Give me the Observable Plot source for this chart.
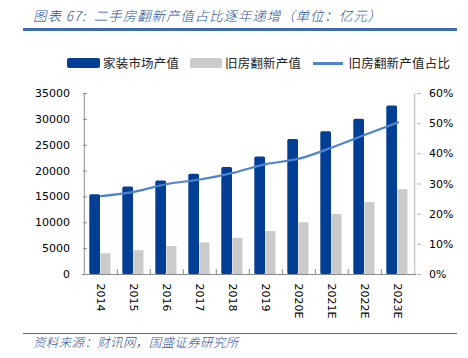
<!DOCTYPE html>
<html>
<head>
<meta charset="utf-8">
<script src="https://cdn.jsdelivr.net/npm/d3@7"></script>
<script src="https://cdn.jsdelivr.net/npm/@observablehq/plot@0.6"></script>
<style>
  html, body { margin: 0; padding: 0; background: #fff; }
  #wrap { position: relative; width: 468px; height: 358px; overflow: hidden; font-family: "Noto Sans CJK SC", sans-serif; }
  .abs { position: absolute; white-space: nowrap; }
  #title { left: 33px; top: 5px; font-size: 13.5px; font-style: italic; color: #2d5295; line-height: 20px; letter-spacing: 0.9px; font-weight: 300; }
  #topRule { left: 23px; top: 28px; width: 434px; height: 2.5px; background: #3d6cb3; }
  #botRule { left: 23px; top: 332.5px; width: 434px; height: 1.5px; background: #3d6cb3; }
  #source { left: 33px; top: 333px; font-size: 12.5px; font-style: italic; color: #2d5295; line-height: 18px; letter-spacing: 0.35px; font-weight: 300; }
  .legtext { font-size: 12.5px; color: #222; line-height: 16px; top: 55px; letter-spacing: 0.2px; }
  .sw { top: 58px; height: 10px; }
  #chart { left: 0; top: 80px; }
</style>
</head>
<body>
<div id="wrap">
  <div id="title" class="abs">图表 67:&nbsp; 二手房翻新产值占比逐年递增（单位：亿元）</div>
  <div id="topRule" class="abs"></div>
  <div id="legend"></div>
  <div id="chart" class="abs"></div>
  <div id="botRule" class="abs"></div>
  <div id="source" class="abs">资料来源：财讯网，国盛证券研究所</div>
</div>
<script>
// ---- data ----
const years = ["2014", "2015", "2016", "2017", "2018", "2019", "2020E", "2021E", "2022E", "2023E"];
const homeDecor = [15400, 16900, 18100, 19400, 20700, 22700, 26100, 27600, 30000, 32600];
const renovation = [4000, 4600, 5400, 6100, 7000, 8300, 10000, 11600, 13900, 16400];
const renovationShare = [26.0, 27.4, 30.0, 31.5, 33.7, 36.6, 38.4, 42.1, 46.3, 50.4];
const leftTicks = [0, 5000, 10000, 15000, 20000, 25000, 30000, 35000];
const rightTicks = [0, 10, 20, 30, 40, 50, 60];
const seriesNames = ["家装市场产值", "旧房翻新产值", "旧房翻新产值占比"];

const blue = "#023f94", gray = "#cbcbcb", lineBlue = "#4f83cc";
const yMax = 35000, pctMax = 60;
const toLeft = p => p / pctMax * yMax;

const rows = years.map((y, i) => ({year: y, a: homeDecor[i], b: renovation[i], p: renovationShare[i]}));

const W = 468, H = 250, mL = 82, mR = 52, mT = 13, mB = 56;
const bw = (W - mL - mR) / years.length;
const axisFont = "DejaVu Sans, sans-serif";

const plot = Plot.plot({
  width: W, height: H,
  marginLeft: mL, marginRight: mR, marginTop: mT, marginBottom: mB,
  style: {fontFamily: axisFont, fontSize: "11px", color: "#000", background: "transparent"},
  x: {type: "band", domain: years, padding: 0, label: null},
  y: {domain: [0, yMax], label: null},
  marks: [
    Plot.barY(rows, {x: "year", y: "a", fill: blue, insetLeft: 5.3, insetRight: 17, rx: 1.5}),
    Plot.barY(rows, {x: "year", y: "b", fill: gray, insetLeft: 16.4, insetRight: 6.5}),
    Plot.line(rows, {x: "year", y: d => toLeft(d.p), stroke: lineBlue, strokeWidth: 2.2, curve: "monotone-x"}),
    // x axis baseline
    Plot.ruleY([0], {stroke: "#8a8a8a", strokeWidth: 1}),
    // left axis line
    Plot.ruleX([years[0]], {x: d => d, dx: -bw / 2, y1: 0, y2: yMax, stroke: "#8a8a8a"}),
    // right axis line
    Plot.ruleX([years[years.length - 1]], {x: d => d, dx: bw / 2, y1: 0, y2: yMax, stroke: "#b5b5b5"}),
    // category boundary ticks (pointing up)
    Plot.ruleX(years.slice(1), {x: d => d, dx: -bw / 2, y1: 0, y2: 0, insetTop: -5, stroke: "#8a8a8a"}),
    // left axis labels
    Plot.axisY(leftTicks, {anchor: "left", tickSize: 0, tickPadding: 12.5, label: null, tickFormat: d => String(d)}),
    // left axis ticks pointing inward
    Plot.axisY(leftTicks, {anchor: "right", tickSize: 4, dx: -(W - mL - mR), tickFormat: () => "", label: null, stroke: "#8a8a8a"}),
    // right axis
    Plot.axisY(rightTicks.map(toLeft), {anchor: "right", tickSize: 4, tickPadding: 8.5, label: null,
      tickFormat: v => Math.round(v / yMax * pctMax) + "%", stroke: "#b5b5b5"}),
    // x labels rotated
    Plot.axisX({tickSize: 0, tickPadding: 9, tickRotate: 90, label: null})
  ]
});
document.getElementById("chart").appendChild(plot);

// legend
const leg = document.getElementById("legend");
const items = [
  {kind: "rect", color: blue, x0: 67, x1: 100, tx: 103, name: seriesNames[0]},
  {kind: "rect", color: gray, x0: 190, x1: 222, tx: 225, name: seriesNames[1]},
  {kind: "line", color: lineBlue, x0: 313, x1: 343, tx: 348.5, name: seriesNames[2]}
];
for (const it of items) {
  const s = document.createElement("div");
  s.className = "abs sw";
  s.style.left = it.x0 + "px";
  s.style.width = (it.x1 - it.x0) + "px";
  s.style.background = it.color;
  if (it.kind === "line") { s.style.top = "62px"; s.style.height = "2.5px"; }
  else { s.style.borderRadius = "2px"; }
  leg.appendChild(s);
  const t = document.createElement("div");
  t.className = "abs legtext";
  t.style.left = it.tx + "px";
  t.textContent = it.name;
  leg.appendChild(t);
}
</script>
</body>
</html>
